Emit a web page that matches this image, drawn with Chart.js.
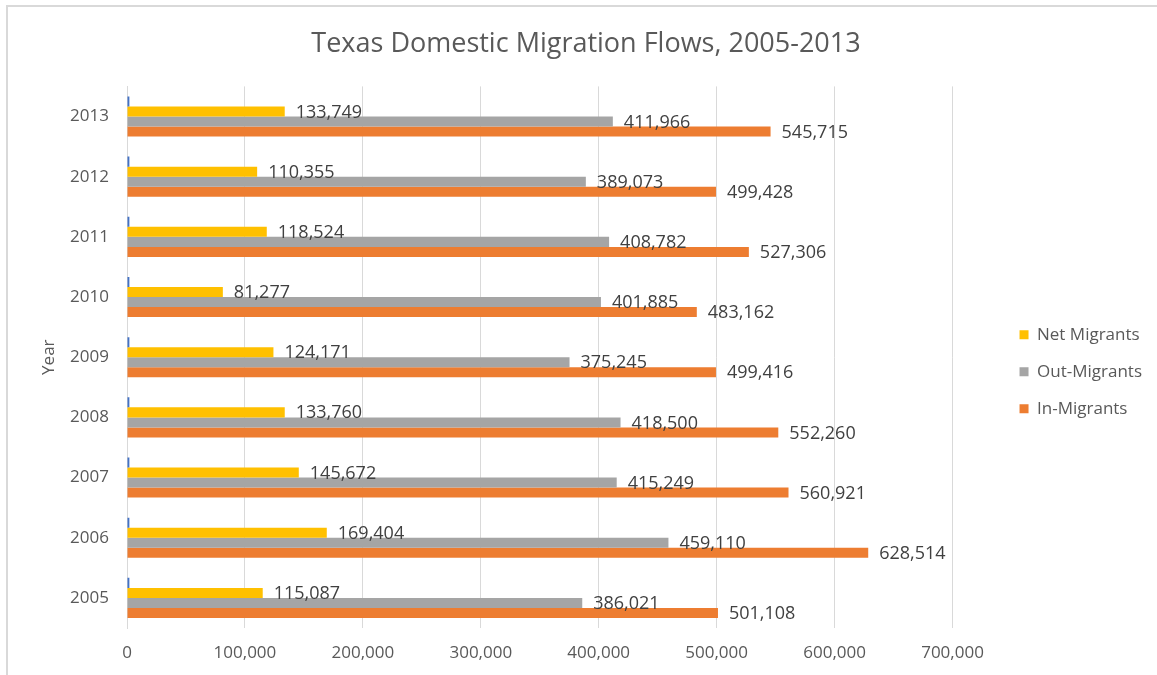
<!DOCTYPE html>
<html>
<head>
<meta charset="utf-8">
<title>Texas Domestic Migration Flows, 2005-2013</title>
<script src="https://cdn.jsdelivr.net/npm/chart.js@4/dist/chart.umd.min.js"></script>
<style>
  html, body { margin: 0; padding: 0; background: #fff; overflow: hidden; }
  #frame {
    position: absolute; left: 6px; top: 5px; width: 1200px; height: 700px;
    border: 2px solid #d9d9d9; box-sizing: border-box;
  }
  #wrap { position: absolute; left: 0; top: 0; width: 1157px; height: 675px; }
</style>
</head>
<body>
<div id="frame"></div>
<div id="wrap"><canvas id="migrationChart" width="1157" height="675"></canvas></div>
<script>
// Domestic migration into / out of Texas by year
const years = ["2005", "2006", "2007", "2008", "2009", "2010", "2011", "2012", "2013"];
const yearValues = [2005, 2006, 2007, 2008, 2009, 2010, 2011, 2012, 2013];
const netMigrants = [115087, 169404, 145672, 133760, 124171, 81277, 118524, 110355, 133749];
const outMigrants = [386021, 459110, 415249, 418500, 375245, 401885, 408782, 389073, 411966];
const inMigrants = [501108, 628514, 560921, 552260, 499416, 483162, 527306, 499428, 545715];
const xTicks = [0, 100000, 200000, 300000, 400000, 500000, 600000, 700000];

const FONT = "'Open Sans', 'Liberation Sans', sans-serif";
const fmt = v => v.toLocaleString("en-US");

// value labels just past the end of each bar (the Year column gets none)
const barLabels = {
    id: "barLabels",
    afterDatasetsDraw(chart) {
        const ctx = chart.ctx;
        ctx.save();
        ctx.font = "18px " + FONT;
        ctx.fillStyle = "#404040";
        ctx.textAlign = "left";
        ctx.textBaseline = "middle";
        chart.data.datasets.forEach((ds, i) => {
            if (ds.label === "Year") return;
            chart.getDatasetMeta(i).data.forEach((bar, j) => {
                ctx.fillText(fmt(ds.data[j]), bar.x + 11, bar.y + 1);
            });
        });
        ctx.restore();
    }
};

new Chart(document.getElementById("migrationChart"), {
    type: "bar",
    data: {
        labels: years,
        datasets: [
            { label: "Year", data: yearValues, backgroundColor: "#4472C4" },
            { label: "Net Migrants", data: netMigrants, backgroundColor: "#FFC000" },
            { label: "Out-Migrants", data: outMigrants, backgroundColor: "#A5A5A5" },
            { label: "In-Migrants", data: inMigrants, backgroundColor: "#ED7D31" }
        ]
    },
    options: {
        indexAxis: "y",
        responsive: false,
        animation: false,
        datasets: {
            bar: { categoryPercentage: 0.667, barPercentage: 1.0, borderWidth: 0 }
        },
        layout: { padding: { left: 20, right: 5, top: 0, bottom: 0 } },
        scales: {
            x: {
                min: 0,
                max: 700000,
                afterBuildTicks(scale) {
                    scale.ticks = xTicks.map(v => ({ value: v }));
                },
                grid: { color: "#d9d9d9", drawTicks: false },
                border: { display: false },
                ticks: {
                    padding: 15,
                    color: "#595959",
                    font: { family: FONT, size: 17 },
                    callback: v => fmt(v)
                },
                afterFit(scale) { scale.height = 47; }
            },
            y: {
                reverse: true,
                grid: { display: false, drawTicks: false },
                border: { display: true, color: "#d9d9d9" },
                ticks: {
                    padding: 18,
                    color: "#595959",
                    font: { family: FONT, size: 17 }
                },
                title: {
                    display: true,
                    text: "Year",
                    color: "#595959",
                    font: { family: FONT, size: 17 },
                    padding: { top: 19, bottom: 0 }
                },
                afterFit(scale) { scale.width = 107; }
            },
            // empty right-hand spacer between plot and legend
            gap: {
                type: "linear",
                position: "right",
                display: true,
                grid: { display: false, drawTicks: false },
                border: { display: false },
                ticks: { display: false },
                afterFit(scale) { scale.width = 47; }
            }
        },
        plugins: {
            title: {
                display: true,
                text: "Texas Domestic Migration Flows, 2005-2013",
                color: "#595959",
                font: { family: FONT, size: 27, weight: "normal" },
                padding: { top: 28, bottom: 26 }
            },
            legend: {
                position: "right",
                // blank title keeps the entries a little below centre
                title: { display: true, text: " ", font: { family: FONT, size: 17 }, padding: { top: 24, bottom: 24 } },
                labels: {
                    filter: item => item.text !== "Year",
                    boxWidth: 9,
                    boxHeight: 9,
                    padding: 20,
                    color: "#595959",
                    font: { family: FONT, size: 17 }
                }
            },
            tooltip: { enabled: false }
        }
    },
    plugins: [barLabels]
});
</script>
</body>
</html>
